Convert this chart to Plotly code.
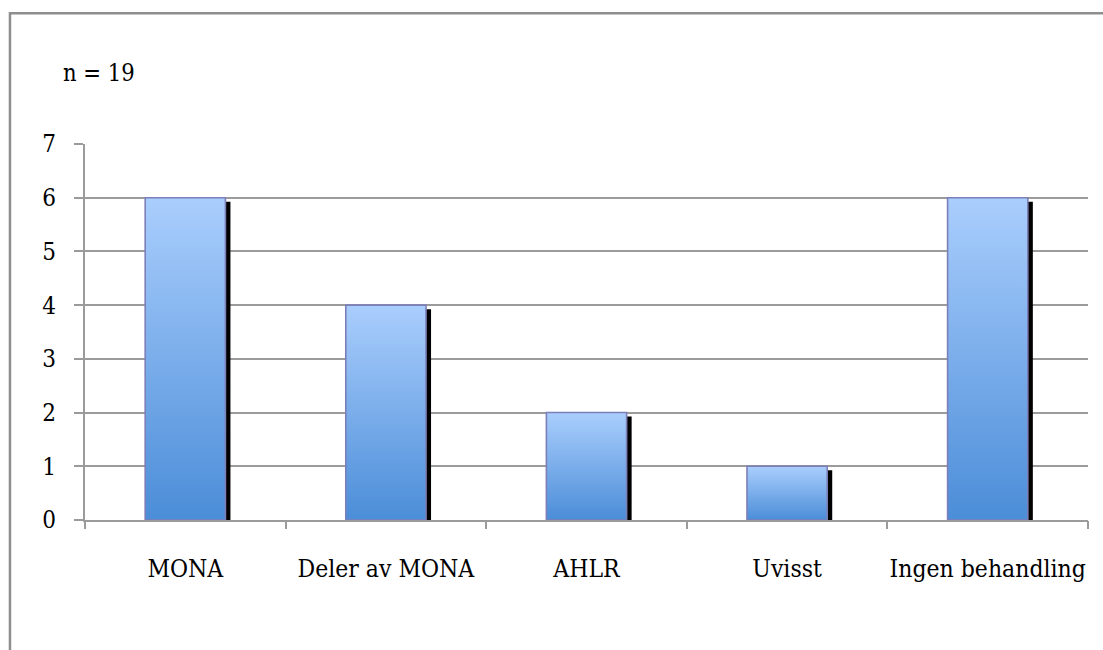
import plotly.graph_objects as go

categories = ["MONA", "Deler av MONA", "AHLR", "Uvisst", "Ingen behandling"]
values = [6, 4, 2, 1, 6]
y_ticks = [0, 1, 2, 3, 4, 5, 6, 7]
note_text = "n = 19"

FONT = "DejaVu Serif Condensed, DejaVu Serif"
GRID = "#9b9b9b"
half_w = 0.2
sh_dx = 0.025
sh_dy = 0.075

fig = go.Figure()
for i, v in enumerate(values):
    # shadow
    fig.add_trace(go.Scatter(
        x=[i - half_w + sh_dx, i + half_w + sh_dx, i + half_w + sh_dx, i - half_w + sh_dx, i - half_w + sh_dx],
        y=[0, 0, v - sh_dy, v - sh_dy, 0],
        fill="toself", fillcolor="#000000", mode="lines",
        line=dict(width=0, color="#000000"), hoverinfo="skip", showlegend=False))
    # bar with gradient
    fig.add_trace(go.Scatter(
        x=[i - half_w, i + half_w, i + half_w, i - half_w, i - half_w],
        y=[0, 0, v, v, 0],
        fill="toself", mode="lines",
        fillgradient=dict(type="vertical",
                          colorscale=[[0, "#4b8dd8"], [1, "#aacefd"]]),
        line=dict(width=1.6, color="#7d7fb8"),
        name=categories[i], showlegend=False))

# invisible trace for the boundary tick axis
fig.add_trace(go.Scatter(x=[-0.5, len(categories) - 0.5], y=[0, 0], xaxis="x2",
                         mode="markers", marker=dict(opacity=0), hoverinfo="skip",
                         showlegend=False))

fig.add_shape(type="rect", xref="paper", yref="paper",
              x0=-0.0748, x1=1.05, y0=-1.0, y1=1.348,
              line=dict(color="#8e8e8e", width=2.5), layer="below")

fig.add_annotation(text=note_text, xref="paper", yref="paper",
                   x=-0.024, y=1.19, xanchor="left", yanchor="middle",
                   showarrow=False, font=dict(family=FONT, size=23.5, color="#000"))

n = len(categories)
fig.update_layout(
    width=1103, height=650,
    margin=dict(l=85, r=15, t=144, b=130),
    paper_bgcolor="white", plot_bgcolor="white",
    font=dict(family=FONT, size=23, color="#000"),
    xaxis=dict(range=[-0.5, n - 0.5], tickvals=list(range(n)), ticktext=categories,
               ticks="", showgrid=False, zeroline=False, showline=True,
               linecolor=GRID, linewidth=2.2, ticklabelstandoff=25,
               tickfont=dict(family=FONT, size=24.5, color="#000")),
    xaxis2=dict(range=[-0.5, n - 0.5], overlaying="x", side="bottom", anchor="y",
                tickvals=[k - 0.5 for k in range(n + 1)], ticks="outside",
                ticklen=8, tickwidth=2.2, tickcolor=GRID, showticklabels=False,
                showgrid=False, zeroline=False, showline=False),
    yaxis=dict(range=[0, 7], tickvals=y_ticks, ticks="outside", ticklen=9,
               tickwidth=2.2, tickcolor=GRID, showgrid=True, gridcolor=GRID,
               gridwidth=2.2, zeroline=False, showline=True, linecolor=GRID,
               linewidth=2.2, ticklabelstandoff=13,
               tickfont=dict(family=FONT, size=24, color="#000")),
)

fig.write_html("out.html")
